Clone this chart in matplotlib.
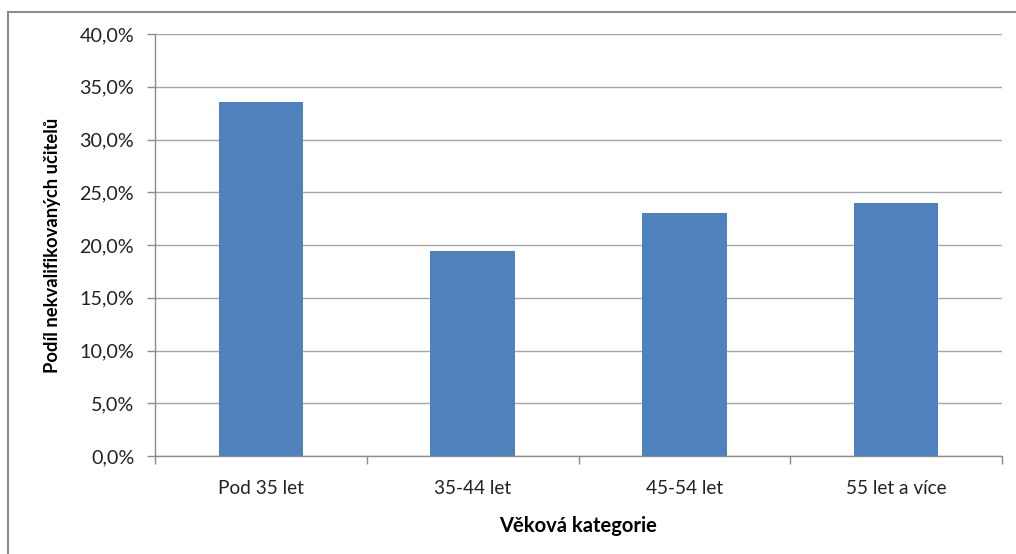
import matplotlib.pyplot as plt
from matplotlib.patches import Rectangle
from matplotlib.ticker import FuncFormatter, MultipleLocator
import numpy as np

# ---------------- Data ---------------- #
categories = ['Pod 35 let', '35-44 let', '45-54 let', '55 let a více']
shares = [33.6, 19.4, 23.0, 24.0]      # share of unqualified teachers (%)

plt.rcParams['font.family'] = ['Lato', 'DejaVu Sans']

fig = plt.figure(figsize=(10.16, 5.54), dpi=100)
ax = fig.add_axes([155 / 1016, 1 - 456 / 554, (1002 - 155) / 1016, (456 - 34) / 554])

x = np.arange(len(categories))
ax.bar(x, shares, width=0.4, color='#4f81bd', zorder=3)

ax.set_xlim(-0.5, len(categories) - 0.5)
ax.set_ylim(0, 40)
ax.yaxis.set_major_locator(MultipleLocator(5))
ax.yaxis.set_major_formatter(FuncFormatter(lambda v, p: f'{v:.1f}%'.replace('.', ',')))
ax.grid(axis='y', color='#a6a6a6', linewidth=1, zorder=0)

# category labels between boundary ticks
ax.set_xticks(np.arange(len(categories) + 1) - 0.5)
ax.set_xticklabels([])
ax.set_xticks(x, minor=True)
ax.set_xticklabels(categories, minor=True)
ax.tick_params(axis='x', which='minor', length=0, pad=17, labelsize=13.7, labelcolor='#222222')
ax.tick_params(axis='x', which='major', length=6, color='#8c8c8c', width=1)
ax.tick_params(axis='y', length=6, color='#8c8c8c', width=1, labelsize=14.2,
               labelcolor='#222222', pad=9)

for side in ['top', 'right']:
    ax.spines[side].set_visible(False)
for side in ['left', 'bottom']:
    ax.spines[side].set_color('#8c8c8c')
    ax.spines[side].set_linewidth(1)

ax.set_ylabel('Podíl nekvalifikovaných učitelů', fontsize=13.2, fontweight='bold', labelpad=13)
ax.set_xlabel('Věková kategorie', fontsize=14.5, fontweight='bold', labelpad=14)

# outer chart border (cropped at right/bottom)
fig.patches.append(Rectangle((8 / 1016, -0.05), 1.1, 1 - 12 / 554 + 0.05,
                             transform=fig.transFigure, fill=False,
                             edgecolor='#8c8c8c', linewidth=1.5))

fig.savefig('out.png', dpi=100)
